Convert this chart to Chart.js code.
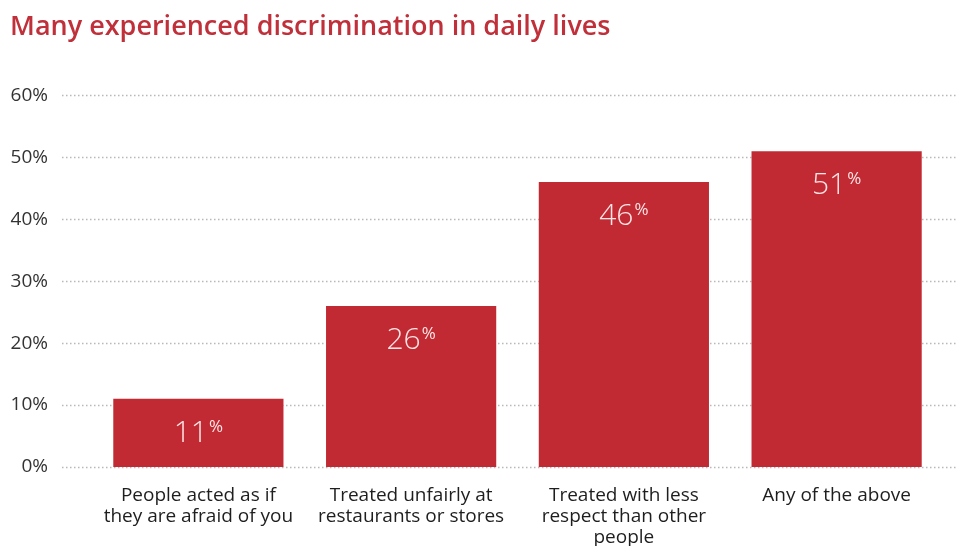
<!DOCTYPE html>
<html>
<head>
<meta charset="utf-8">
<script src="https://cdn.jsdelivr.net/npm/chart.js@4/dist/chart.umd.min.js"></script>
<style>
  html, body { margin: 0; padding: 0; background: #fff; }
  #wrap { width: 960px; height: 546px; }
</style>
</head>
<body>
<div id="wrap"><canvas id="chart"></canvas></div>
<script>
const categories = [
  ["People acted as if", "they are afraid of you"],
  ["Treated unfairly at", "restaurants or stores"],
  ["Treated with less", "respect than other", "people"],
  ["Any of the above"]
];
const shares = [11, 26, 46, 51];
const tickValues = [0, 10, 20, 30, 40, 50, 60];

const RED = "#c22a33";

// dotted grid lines running past the plot area, like the original
const dottedGrid = {
  id: "dottedGrid",
  beforeDatasetsDraw(chart) {
    const ctx = chart.ctx;
    const y = chart.scales.y;
    ctx.save();
    ctx.strokeStyle = "#b8b8b8";
    ctx.lineWidth = 1.5;
    ctx.setLineDash([1.5, 2.5]);
    tickValues.forEach(v => {
      const py = Math.round(y.getPixelForValue(v)) + 0.5;
      ctx.beginPath();
      ctx.moveTo(62, py);
      ctx.lineTo(chart.width - 2, py);
      ctx.stroke();
    });
    ctx.restore();
  }
};

// value labels inside the bars, small raised % sign
const barLabels = {
  id: "barLabels",
  afterDatasetsDraw(chart) {
    const ctx = chart.ctx;
    const meta = chart.getDatasetMeta(0);
    ctx.save();
    ctx.fillStyle = "rgba(255,240,240,0.95)";
    ctx.textBaseline = "alphabetic";
    meta.data.forEach((bar, i) => {
      const num = String(shares[i]);
      ctx.font = "300 30px 'Open Sans'";
      const w1 = ctx.measureText(num).width;
      ctx.font = "400 17px 'Open Sans'";
      const w2 = ctx.measureText("%").width;
      const start = bar.x - (w1 + w2 + 1) / 2;
      const base = bar.y + 43;
      ctx.font = "300 30px 'Open Sans'";
      ctx.textAlign = "left";
      ctx.fillText(num, start, base);
      ctx.font = "400 17px 'Open Sans'";
      ctx.fillText("%", start + w1 + 1, base - 10);
    });
    ctx.restore();
  }
};

new Chart(document.getElementById("chart"), {
  type: "bar",
  data: {
    labels: categories,
    datasets: [{
      data: shares,
      backgroundColor: RED,
      barPercentage: 0.8,
      categoryPercentage: 1
    }]
  },
  options: {
    responsive: true,
    maintainAspectRatio: false,
    animation: false,
    layout: { padding: { left: 10, right: 17, top: 0, bottom: 0 } },
    plugins: {
      legend: { display: false },
      tooltip: { enabled: false },
      title: {
        display: true,
        text: "Many experienced discrimination in daily lives",
        align: "start",
        color: "#c0303a",
        font: { family: "Open Sans", size: 27, weight: "600" },
        padding: { top: 11, bottom: 52 }
      }
    },
    scales: {
      x: {
        grid: { display: false, drawTicks: false },
        border: { display: false },
        ticks: {
          color: "#1e1e1e",
          font: { family: "Open Sans", size: 19, lineHeight: 1.1 },
          padding: 18,
          maxRotation: 0,
          autoSkip: false
        },
        afterFit(scale) { scale.height = 79; }
      },
      y: {
        min: 0,
        max: 60,
        grid: { display: false, drawTicks: false },
        border: { display: false },
        ticks: {
          stepSize: 10,
          color: "#333",
          padding: 44,
          font: { family: "Open Sans", size: 19 },
          callback: v => v + "%"
        },
        afterFit(scale) { scale.width = 82; }
      }
    }
  },
  plugins: [dottedGrid, barLabels]
});
</script>
</body>
</html>
